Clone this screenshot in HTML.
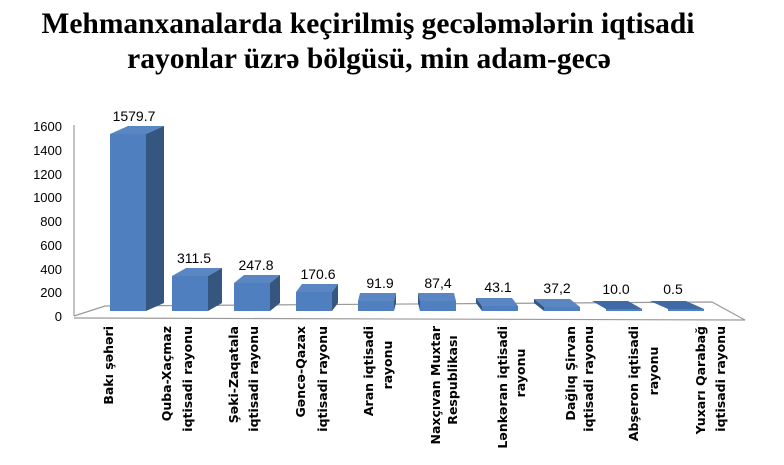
<!DOCTYPE html>
<html><head><meta charset="utf-8"><style>
body{margin:0;background:#fff;width:784px;height:460px;overflow:hidden}
</style></head><body>
<svg width="784" height="460" xmlns="http://www.w3.org/2000/svg">
<text x="368" y="33" text-anchor="middle" font-family="Liberation Serif" font-weight="bold" font-size="29.5">Mehmanxanalarda keçirilmiş gecələmələrin iqtisadi</text>
<text x="369" y="68" text-anchor="middle" font-family="Liberation Serif" font-weight="bold" font-size="29.5">rayonlar üzrə bölgüsü, min adam-gecə</text>
<g font-family="Liberation Sans" font-size="13" text-anchor="end" fill="#000">
<text x="62" y="321">0</text><text x="62" y="297">200</text><text x="62" y="274">400</text><text x="62" y="250">600</text><text x="62" y="226">800</text><text x="62" y="202">1000</text><text x="62" y="179">1200</text><text x="62" y="155">1400</text><text x="62" y="131">1600</text>
</g>
<g stroke="#999" stroke-width="1.2" fill="none">
<line x1="74" y1="125" x2="74" y2="316"/>
<polyline points="74,316 105,306 712,302 745,320 74,318"/>
</g>
<g>
<polygon points="110,134 128,126 164,126 146,134" fill="#5a87c4"/><polygon points="146,134 164,126 164,303 146,311" fill="#34567f"/><rect x="110" y="134" width="36" height="177" fill="#4f7fbe"/>
<polygon points="172,276 186,268 222,268 208,276" fill="#5a87c4"/><polygon points="208,276 222,268 222,303 208,311" fill="#34567f"/><rect x="172" y="276" width="36" height="35" fill="#4f7fbe"/>
<polygon points="234,283 244,275 280,275 270,283" fill="#5a87c4"/><polygon points="270,283 280,275 280,303 270,311" fill="#34567f"/><rect x="234" y="283" width="36" height="28" fill="#4f7fbe"/>
<polygon points="296,292 302,284 338,284 332,292" fill="#5a87c4"/><polygon points="332,292 338,284 338,303 332,311" fill="#34567f"/><rect x="296" y="292" width="36" height="19" fill="#4f7fbe"/>
<polygon points="358,301 360,293 396,293 394,301" fill="#5a87c4"/><polygon points="394,301 396,293 396,303 394,311" fill="#34567f"/><rect x="358" y="301" width="36" height="10" fill="#4f7fbe"/>
<polygon points="420,301 418,293 454,293 456,301" fill="#5a87c4"/><polygon points="420,301 418,293 418,303 420,311" fill="#34567f"/><rect x="420" y="301" width="36" height="10" fill="#4f7fbe"/>
<polygon points="482,306 476,298 512,298 518,306" fill="#5a87c4"/><polygon points="482,306 476,298 476,303 482,311" fill="#34567f"/><rect x="482" y="306" width="36" height="5" fill="#4f7fbe"/>
<polygon points="544,307 534,299 570,299 580,307" fill="#5a87c4"/><polygon points="544,307 534,299 534,303 544,311" fill="#34567f"/><rect x="544" y="307" width="36" height="4" fill="#4f7fbe"/>
<polygon points="606,309 592,301 628,301 642,309" fill="#3f6aa5"/><rect x="606" y="309" width="36" height="2" fill="#4f7fbe"/>
<polygon points="668,309 650,301 686,301 704,309" fill="#3f6aa5"/><rect x="668" y="309" width="36" height="2" fill="#4f7fbe"/>
</g>
<g font-family="Liberation Sans" font-size="14" text-anchor="middle" fill="#000">
<text x="134" y="121">1579.7</text>
<text x="194" y="263">311.5</text>
<text x="256" y="270">247.8</text>
<text x="318" y="279">170.6</text>
<text x="380" y="288">91.9</text>
<text x="438" y="288">87,4</text>
<text x="498" y="292">43.1</text>
<text x="557" y="293">37,2</text>
<text x="616" y="294">10.0</text>
<text x="673" y="294">0.5</text>
</g>
<g font-family="DejaVu Sans" font-weight="bold" font-size="12.5" fill="#000" text-anchor="end">
<text transform="translate(113,326) rotate(-90)">Bakı şəhəri</text>
<text transform="translate(171,326) rotate(-90)">Quba-Xaçmaz</text>
<text transform="translate(192,326) rotate(-90)">iqtisadi rayonu</text>
<text transform="translate(238,326) rotate(-90)">Şəki-Zaqatala</text>
<text transform="translate(258,326) rotate(-90)">iqtisadi rayonu</text>
<text transform="translate(305,326) rotate(-90)">Gəncə-Qazax</text>
<text transform="translate(327,326) rotate(-90)">iqtisadi rayonu</text>
<text transform="translate(373,326) rotate(-90)">Aran iqtisadi</text>
<text transform="translate(392,365) rotate(-90)" text-anchor="middle">rayonu</text>
<text transform="translate(440,326) rotate(-90)">Naxçıvan Muxtar</text>
<text transform="translate(457,380) rotate(-90)" text-anchor="middle">Respublikası</text>
<text transform="translate(507,326) rotate(-90)">Lənkəran iqtisadi</text>
<text transform="translate(525,373) rotate(-90)" text-anchor="middle">rayonu</text>
<text transform="translate(575,326) rotate(-90)">Dağlıq Şirvan</text>
<text transform="translate(593,326) rotate(-90)">iqtisadi rayonu</text>
<text transform="translate(638,326) rotate(-90)">Abşeron iqtisadi</text>
<text transform="translate(658,371) rotate(-90)" text-anchor="middle">rayonu</text>
<text transform="translate(705,326) rotate(-90)">Yuxarı Qarabağ</text>
<text transform="translate(725,326) rotate(-90)">iqtisadi rayonu</text>
</g>
</svg>
</body></html>
